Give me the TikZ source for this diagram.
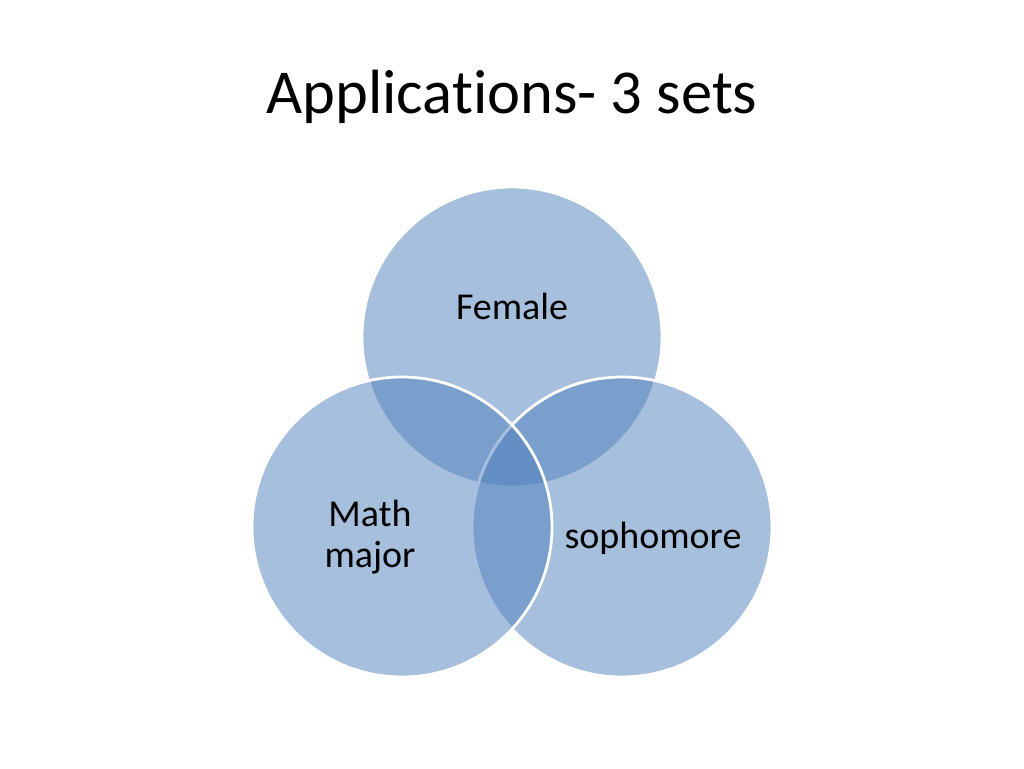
\documentclass[tikz,border=0pt]{standalone}
\usepackage{fontspec}
\setmainfont[Ligatures={NoCommon}]{Carlito}
\definecolor{setblue}{HTML}{4F81BD}
\begin{document}
\begin{tikzpicture}[x=1pt,y=-1pt,
  setcircle/.style={circle, minimum size=300pt, inner sep=0pt, fill=setblue, fill opacity=0.5, draw=white, draw opacity=1, line width=2.8pt},
  label/.style={font=\fontsize{38}{41}\selectfont, align=center, text=black, text opacity=1}]
\useasboundingbox (0,0) rectangle (1024,768);
\fill[white] (0,0) rectangle (1024,768);
\node[font=\fontsize{62.5}{75}\selectfont] (title) at (512,97) {Applications- 3 sets};
\node[setcircle] (top) at (512,337) {};
\node[setcircle] (right) at (622,527) {};
\node[setcircle] (left) at (402,527) {};
\node[label] (female) at (512,306) {Female};
\node[label] (math) at (370,537) {Math\\major};
\node[label] (soph) at (653,538) {sophomore};
\end{tikzpicture}
\end{document}
